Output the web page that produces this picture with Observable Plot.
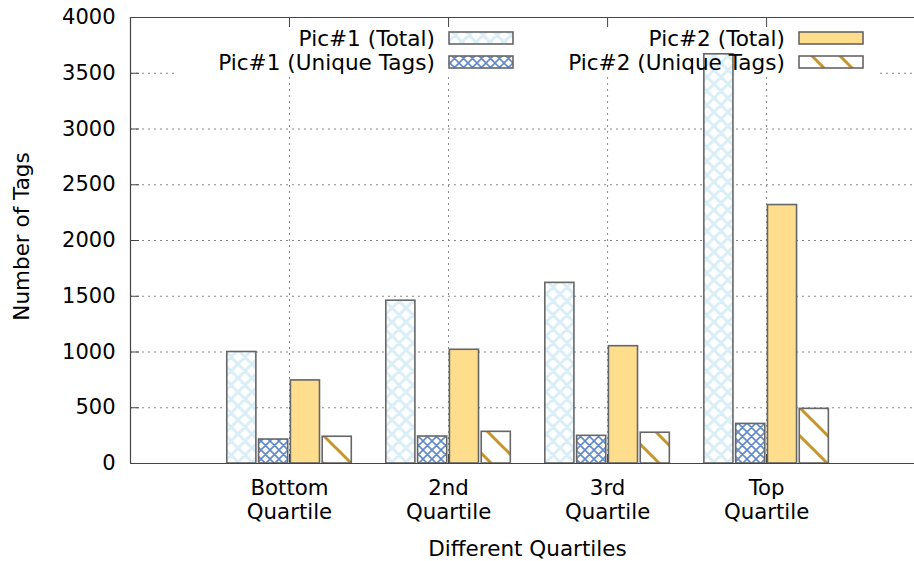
<!DOCTYPE html>
<html>
<head>
<meta charset="utf-8">
<script src="https://cdn.jsdelivr.net/npm/d3@7"></script>
<script src="https://cdn.jsdelivr.net/npm/@observablehq/plot@0.6"></script>
<style>
  html, body { margin: 0; padding: 0; background: white; }
</style>
</head>
<body>
<div id="chart"></div>
<script>
// ---- data ----
const quartiles = ["Bottom\nQuartile", "2nd\nQuartile", "3rd\nQuartile", "Top\nQuartile"];
const pic1Total  = [1000, 1460, 1620, 3670];
const pic1Unique = [215, 242, 248, 355];
const pic2Total  = [745, 1020, 1052, 2318];
const pic2Unique = [240, 284, 276, 490];
const seriesNames = ["Pic#1 (Total)", "Pic#1 (Unique Tags)", "Pic#2 (Total)", "Pic#2 (Unique Tags)"];
const yTicks = [0, 500, 1000, 1500, 2000, 2500, 3000, 3500, 4000];
const xTicks = [0, 1, 2, 3];
const yLabel = "Number of Tags";
const xLabel = "Different Quartiles";

// ---- styles ----
const FONT = "DejaVu Sans";
const fills = ["url(#pPic1Total)", "url(#pPic1Unique)", "#fedd8c", "url(#pPic2Unique)"];
const offsets = [-0.3, -0.1, 0.1, 0.3];
const halfW = 0.0915;
const barStroke = "#666";
const seriesValues = [pic1Total, pic1Unique, pic2Total, pic2Unique];

function defsAndBackground() {
  const g = d3.create("svg:g");
  const defs = g.append("defs");
  // light blue crosshatch
  const p1 = defs.append("pattern").attr("id", "pPic1Total").attr("patternUnits", "userSpaceOnUse")
    .attr("width", 14).attr("height", 14);
  p1.append("rect").attr("width", 14).attr("height", 14).attr("fill", "white");
  p1.append("path").attr("d", "M0,0L14,14M14,0L0,14M-2,12L2,16M12,-2L16,2M-2,2L2,-2M12,16L16,12")
    .attr("stroke", "#d9eef7").attr("stroke-width", 3).attr("fill", "none");
  // dense blue crosshatch
  const p2 = defs.append("pattern").attr("id", "pPic1Unique").attr("patternUnits", "userSpaceOnUse")
    .attr("width", 9).attr("height", 9);
  p2.append("rect").attr("width", 9).attr("height", 9).attr("fill", "white");
  p2.append("path").attr("d", "M0,0L9,9M9,0L0,9M-2,7L2,11M7,-2L11,2M-2,2L2,-2M7,11L11,7")
    .attr("stroke", "#6189cb").attr("stroke-width", 1.6).attr("fill", "none");
  // sparse golden stripes
  const p4 = defs.append("pattern").attr("id", "pPic2Unique").attr("patternUnits", "userSpaceOnUse")
    .attr("width", 28).attr("height", 28);
  p4.append("rect").attr("width", 28).attr("height", 28).attr("fill", "white");
  p4.append("path").attr("d", "M0,0L28,28M-3,25L3,31M25,-3L31,3")
    .attr("stroke", "#c8952c").attr("stroke-width", 3).attr("fill", "none");
  // opaque key background (hides grid behind the key)
  g.append("rect").attr("x", 174).attr("y", 18).attr("width", 702).attr("height", 59).attr("fill", "white");
  return g.node();
}

function legend() {
  const g = d3.create("svg:g")
    .attr("font-family", FONT).attr("font-size", 21.6).attr("fill", "black");
  const cols = [{tx: 435, bx: 449}, {tx: 785, bx: 799}];
  const rows = [38, 62];
  seriesNames.forEach((name, k) => {
    const c = cols[Math.floor(k / 2)], r = rows[k % 2];
    g.append("text").attr("x", c.tx).attr("y", r).attr("dy", "0.35em")
      .attr("text-anchor", "end").text(name);
    g.append("rect").attr("x", c.bx).attr("y", r - 6).attr("width", 64).attr("height", 12)
      .attr("fill", fills[k]).attr("stroke", barStroke).attr("stroke-width", 1.6);
  });
  return g.node();
}

const barMarks = seriesValues.map((vals, s) =>
  Plot.rectY(vals.map((v, i) => ({i, v})), {
    x1: d => d.i + offsets[s] - halfW,
    x2: d => d.i + offsets[s] + halfW,
    y1: d => 0,
    y2: "v",
    fill: fills[s],
    stroke: barStroke,
    strokeWidth: 1.6
  })
);

const chart = Plot.plot({
  width: 914,
  height: 561,
  marginLeft: 130,
  marginRight: 0,
  marginTop: 17,
  marginBottom: 98,
  style: {fontFamily: FONT, fontSize: "21px", color: "black", background: "white"},
  x: {type: "linear", domain: [-1, 3.93], axis: null},
  y: {domain: [0, 4000], axis: null},
  marks: [
    Plot.gridY(yTicks, {stroke: "#888", strokeOpacity: 1, strokeDasharray: "2,4", strokeWidth: 1}),
    Plot.gridX(xTicks, {stroke: "#888", strokeOpacity: 1, strokeDasharray: "2,4", strokeWidth: 1}),
    defsAndBackground,
    ...barMarks,
    legend,
    // border (left, bottom, top)
    Plot.ruleX([-1], {stroke: "#444", strokeWidth: 1.2}),
    Plot.ruleY([0], {stroke: "#444", strokeWidth: 1.2}),
    Plot.ruleY([4000], {stroke: "#444", strokeWidth: 1.2}),
    // inward ticks
    Plot.axisY(yTicks, {anchor: "left", tickSize: -9, tickFormat: () => "", label: null, stroke: "#444"}),
    Plot.axisX(xTicks, {anchor: "bottom", tickSize: -9, tickFormat: () => "", label: null, stroke: "#444"}),
    Plot.axisX(xTicks, {anchor: "top", tickSize: -9, tickFormat: () => "", label: null, stroke: "#444"}),
    // tick labels
    Plot.axisY(yTicks, {anchor: "left", tickSize: 0, tickPadding: 15, fontSize: 21, label: null,
      tickFormat: d => String(d)}),
    Plot.axisX(xTicks, {anchor: "bottom", tickSize: 0, tickPadding: 14, fontSize: 21.3, lineHeight: 1.15,
      tickFormat: i => quartiles[i], label: null}),
    // axis titles
    Plot.text([yLabel], {frameAnchor: "left", rotate: -90, dx: -108, dy: -4, fontSize: 21.5,
      textAnchor: "middle", lineAnchor: "middle"}),
    Plot.text([xLabel], {frameAnchor: "bottom", dx: 5, dy: 86, fontSize: 21.5,
      textAnchor: "middle", lineAnchor: "middle"})
  ]
});

document.getElementById("chart").appendChild(chart);
</script>
</body>
</html>
